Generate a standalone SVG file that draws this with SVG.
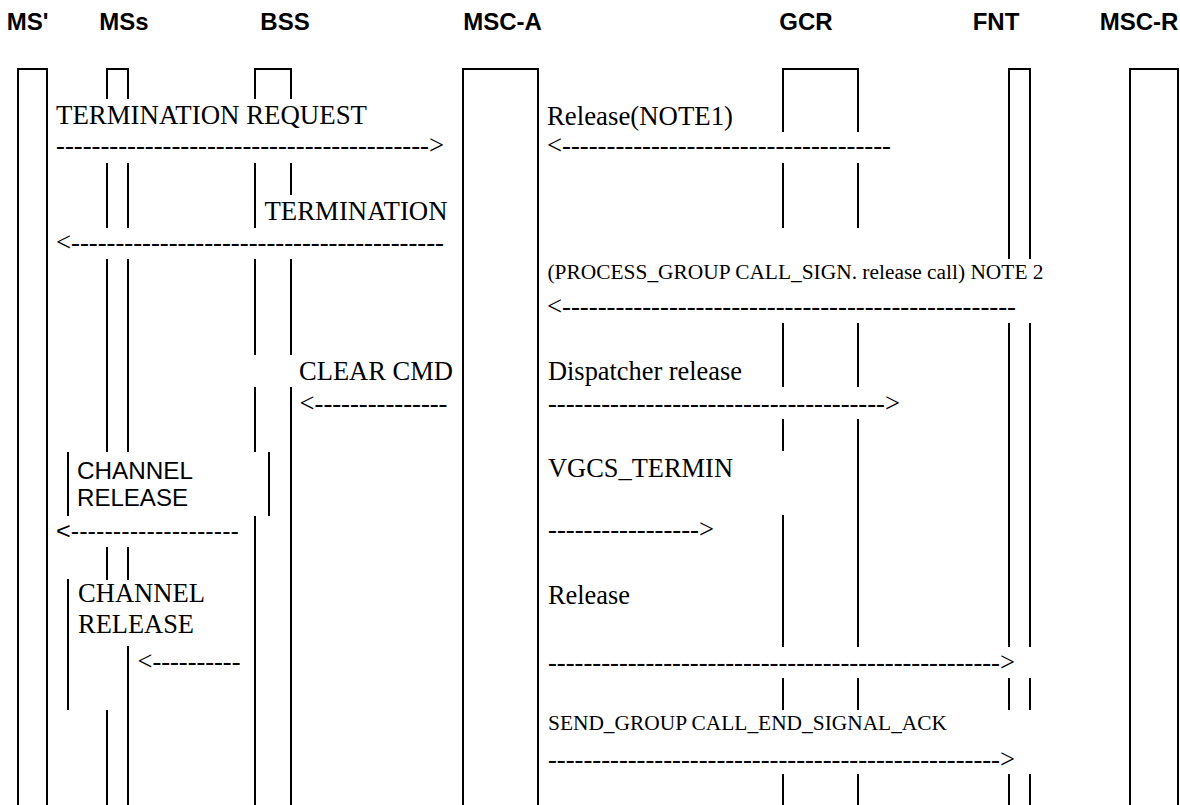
<svg xmlns="http://www.w3.org/2000/svg" width="1180" height="805" viewBox="0 0 1180 805">
<style>
.hd{font-family:"Liberation Sans",Arial,sans-serif;font-weight:bold;font-size:24px;text-anchor:middle;fill:#000}
.t{font-family:"Liberation Serif","Times New Roman",serif;font-size:26.5px;fill:#000}
.s{font-family:"Liberation Serif","Times New Roman",serif;font-size:20px;fill:#000}
.a{font-family:"Liberation Sans",Arial,sans-serif;font-size:24px;fill:#000}
.ll{stroke:#000;stroke-width:2;fill:none}
</style>
<rect width="1180" height="805" fill="#fff"/>
<g id="ms-prime">
<text class="hd" x="27.5" y="30">MS'</text>
<path class="ll" d="M18 805V69H47V805"/>
</g>
<g id="mss">
<text class="hd" x="124" y="30">MSs</text>
<path class="ll" d="M107 99V69H128V99M107 163V228M128 163V228M107 259V452M128 259V452M107 547V580M128 547V580M107 710V805M128 646V805"/>
</g>
<g id="bss">
<text class="hd" x="285" y="30">BSS</text>
<path class="ll" d="M255 99V69H291V99M255 163V228M291 163V195M255 259V355M291 259V355M255 387V452M291 387V805M255 516V805"/>
</g>
<g id="msc-a">
<text class="hd" x="502.5" y="30">MSC-A</text>
<path class="ll" d="M463 805V69H538V805"/>
</g>
<g id="gcr">
<text class="hd" x="806" y="30">GCR</text>
<path class="ll" d="M783 132V69H858V132M783 163V228M858 163V228M783 323V387M858 323V387M783 419V451M858 419V647M783 515V647M783 678V710M858 678V710M783 774V805M858 774V805"/>
</g>
<g id="fnt">
<text class="hd" x="996" y="30">FNT</text>
<path class="ll" d="M1009 259V69H1030V259M1009 323V647M1030 323V647M1009 678V710M1030 678V710M1009 774V805M1030 774V805"/>
</g>
<g id="msc-r">
<text class="hd" x="1139" y="30">MSC-R</text>
<path class="ll" d="M1130 805V69H1178V805"/>
</g>
<g id="channel-release-1">
<path class="ll" d="M68 452V516M269 452V516"/>
<text class="a" x="77" y="479" textLength="116" lengthAdjust="spacingAndGlyphs">CHANNEL</text>
<text class="a" x="77" y="506" textLength="111" lengthAdjust="spacingAndGlyphs">RELEASE</text>
</g>
<g id="channel-release-2">
<path class="ll" d="M68 579V710"/>
<text class="t" x="78" y="602" textLength="127" lengthAdjust="spacingAndGlyphs">CHANNEL</text>
<text class="t" x="78" y="633" textLength="116" lengthAdjust="spacingAndGlyphs">RELEASE</text>
</g>
<g id="connectors">
<text class="t" x="56" y="124" textLength="311" lengthAdjust="spacingAndGlyphs">TERMINATION REQUEST</text>
<text class="t" x="56" y="154" textLength="388" lengthAdjust="spacingAndGlyphs">------------------------------------------&gt;</text>
<text class="t" x="547" y="125" textLength="186" lengthAdjust="spacingAndGlyphs">Release(NOTE1)</text>
<text class="t" x="547" y="154" textLength="344" lengthAdjust="spacingAndGlyphs">&lt;-------------------------------------</text>
<text class="t" x="264.5" y="220" textLength="183" lengthAdjust="spacingAndGlyphs">TERMINATION</text>
<text class="t" x="56" y="251" textLength="388" lengthAdjust="spacingAndGlyphs">&lt;------------------------------------------</text>
<text class="s" x="547.5" y="279" textLength="496" lengthAdjust="spacingAndGlyphs">(PROCESS_GROUP CALL_SIGN. release call) NOTE 2</text>
<text class="t" x="547" y="315" textLength="469" lengthAdjust="spacingAndGlyphs">&lt;---------------------------------------------------</text>
<text class="t" x="299" y="380" textLength="154" lengthAdjust="spacingAndGlyphs">CLEAR CMD</text>
<text class="t" x="299.5" y="411.5" textLength="148" lengthAdjust="spacingAndGlyphs">&lt;---------------</text>
<text class="t" x="548" y="380" textLength="194" lengthAdjust="spacingAndGlyphs">Dispatcher release</text>
<text class="t" x="548" y="411.5" textLength="352" lengthAdjust="spacingAndGlyphs">--------------------------------------&gt;</text>
<text class="a" x="56" y="539" textLength="183" lengthAdjust="spacingAndGlyphs">&lt;--------------------</text>
<text class="t" x="548" y="476.5" textLength="185" lengthAdjust="spacingAndGlyphs">VGCS_TERMIN</text>
<text class="t" x="548" y="538" textLength="166" lengthAdjust="spacingAndGlyphs">-----------------&gt;</text>
<text class="t" x="137.5" y="670" textLength="103" lengthAdjust="spacingAndGlyphs">&lt;----------</text>
<text class="t" x="548" y="603.5" textLength="82" lengthAdjust="spacingAndGlyphs">Release</text>
<text class="t" x="548" y="671" textLength="467" lengthAdjust="spacingAndGlyphs">---------------------------------------------------&gt;</text>
<text class="s" x="548" y="729.5" textLength="399" lengthAdjust="spacingAndGlyphs">SEND_GROUP CALL_END_SIGNAL_ACK</text>
<text class="t" x="548" y="768" textLength="467" lengthAdjust="spacingAndGlyphs">---------------------------------------------------&gt;</text>
</g>
</svg>
